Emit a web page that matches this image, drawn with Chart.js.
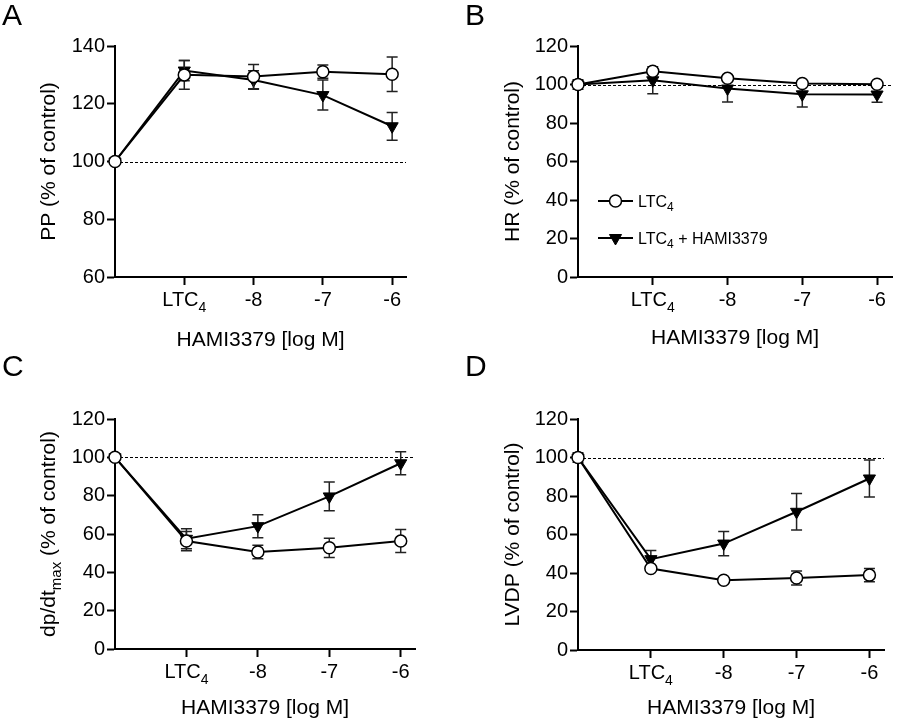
<!DOCTYPE html>
<html>
<head>
<meta charset="utf-8">
<script src="https://cdn.jsdelivr.net/npm/chart.js@4.4.1/dist/chart.umd.min.js"></script>
<style>
  body { margin: 0; background: #fff; }
  #wrap { position: relative; width: 900px; height: 725px; }
  canvas { position: absolute; }
  .letter { position: absolute; font: 30px/30px Arial, "Liberation Sans", sans-serif; color: #000; }
</style>
</head>
<body>
<div id="wrap">
  <canvas id="cA" width="450" height="362" style="left:0;top:0"></canvas>
  <canvas id="cB" width="450" height="362" style="left:450px;top:0"></canvas>
  <canvas id="cC" width="450" height="363" style="left:0;top:362px"></canvas>
  <canvas id="cD" width="450" height="363" style="left:450px;top:362px"></canvas>
  <div class="letter" style="left:2px;top:0">A</div>
  <div class="letter" style="left:465px;top:0">B</div>
  <div class="letter" style="left:2px;top:351px">C</div>
  <div class="letter" style="left:465px;top:351px">D</div>
</div>
<script>
// x positions: control, LTC4, then HAMI3379 -8 / -7 / -6 log M
const xPos = [0, 1, 2, 3, 4];
const xTickPos = [1, 2, 3, 4];
const xTickLabels = ['LTC_{4}', '-8', '-7', '-6'];
const xTitle = 'HAMI3379 [log M]';
const seriesNames = ['LTC_{4}', 'LTC_{4} + HAMI3379'];
const refLine = 100;

// A - PP
const ppLTC = [100, 130, 129.4, 131.1, 130.2];
const ppLTCErr = [0, 5, 4.2, 2.3, 6];
const ppHAMI = [100, 131.5, 128.2, 123, 112.2];
const ppHAMIErr = [0, 3.5, 3.2, 5.2, 4.8];

// B - HR
const hrLTC = [100, 106.9, 103.2, 100.5, 100.1];
const hrLTCErr = [0, 1, 1, 1, 1];
const hrHAMI = [100, 102.2, 97.9, 94.9, 94.8];
const hrHAMIErr = [2.5, 7, 7, 6.6, 4];

// C - dp/dt max
const dpLTC = [100, 56.3, 50.6, 52.8, 56.3];
const dpLTCErr = [0, 5, 3.5, 5, 6];
const dpHAMI = [100, 57.5, 64.1, 79.6, 96.9];
const dpHAMIErr = [0, 5.2, 6, 7.5, 6];

// D - LVDP
const lvLTC = [100, 42.3, 36.2, 37.4, 38.9];
const lvLTCErr = [2.5, 1, 1, 3.6, 3.5];
const lvHAMI = [100, 47.2, 55.3, 71.8, 89.1];
const lvHAMIErr = [0, 4.5, 6.3, 9.5, 9.6];

const FONT = 'Arial, "Liberation Sans", sans-serif';

const panels = [
  { id: 'cA', h: 362, yTitle: 'PP (% of control)', yMin: 60, yMax: 140,
    area: { l: 115, r: 406, t: 46, b: 277 }, yTitleX: 49, xTitleY: 341,
    series: [ppLTC, ppHAMI], errs: [ppLTCErr, ppHAMIErr] },
  { id: 'cB', h: 362, yTitle: 'HR (% of control)', yMin: 0, yMax: 120,
    area: { l: 128, r: 447, t: 46, b: 277 }, yTitleX: 62.5, xTitleY: 339,
    series: [hrLTC, hrHAMI], errs: [hrLTCErr, hrHAMIErr], legend: true },
  { id: 'cC', h: 363, yTitle: 'dp/dt_{max} (% of control)', yMin: 0, yMax: 120,
    area: { l: 115, r: 415, t: 57, b: 287 }, yTitleX: 49, xTitleY: 347,
    series: [dpLTC, dpHAMI], errs: [dpLTCErr, dpHAMIErr] },
  { id: 'cD', h: 363, yTitle: 'LVDP (% of control)', yMin: 0, yMax: 120,
    area: { l: 128, r: 434, t: 57, b: 288 }, yTitleX: 62.5, xTitleY: 347,
    series: [lvLTC, lvHAMI], errs: [lvLTCErr, lvHAMIErr] }
];

// split 'LTC_{4}' into normal / subscript runs
function runs(s) {
  const out = [];
  const re = /_\{([^}]*)\}/g;
  let last = 0, m;
  while ((m = re.exec(s))) {
    if (m.index > last) out.push({ t: s.slice(last, m.index), sub: false });
    out.push({ t: m[1], sub: true });
    last = re.lastIndex;
  }
  if (last < s.length) out.push({ t: s.slice(last), sub: false });
  return out;
}

function drawRich(ctx, s, x, y, size, align) {
  const rs = runs(s);
  const subSize = Math.round(size * 0.72);
  let w = 0;
  rs.forEach(r => {
    ctx.font = (r.sub ? subSize : size) + 'px ' + FONT;
    r.w = ctx.measureText(r.t).width;
    w += r.w;
  });
  let cx = align === 'center' ? x - w / 2 : x;
  ctx.textAlign = 'left';
  ctx.textBaseline = 'alphabetic';
  rs.forEach(r => {
    ctx.font = (r.sub ? subSize : size) + 'px ' + FONT;
    ctx.fillText(r.t, cx, r.sub ? y + size * 0.3 : y);
    cx += r.w;
  });
}

const errorBars = {
  id: 'errorBars',
  beforeDatasetDraw(chart, args) {
    const ds = chart.data.datasets[args.index];
    if (!ds.err) return;
    const { ctx, scales: { x, y } } = chart;
    ctx.save();
    ctx.strokeStyle = '#222';
    ctx.lineWidth = 1.5;
    ds.data.forEach((pt, i) => {
      const e = ds.err[i];
      if (!e) return;
      const px = x.getPixelForValue(pt.x);
      const top = y.getPixelForValue(pt.y + e);
      const bot = y.getPixelForValue(pt.y - e);
      ctx.beginPath();
      ctx.moveTo(px, top); ctx.lineTo(px, bot);
      ctx.moveTo(px - 5.5, top); ctx.lineTo(px + 5.5, top);
      ctx.moveTo(px - 5.5, bot); ctx.lineTo(px + 5.5, bot);
      ctx.stroke();
    });
    ctx.restore();
  }
};

const dashedRef = {
  id: 'dashedRef',
  beforeDatasetsDraw(chart) {
    const { ctx, scales: { x, y } } = chart;
    const py = Math.round(y.getPixelForValue(refLine)) + 0.5;
    ctx.save();
    ctx.strokeStyle = '#000';
    ctx.lineWidth = 1;
    ctx.setLineDash([3, 2]);
    ctx.beginPath();
    ctx.moveTo(x.left, py);
    ctx.lineTo(x.right, py);
    ctx.stroke();
    ctx.restore();
  }
};

const texts = {
  id: 'texts',
  afterDraw(chart) {
    const p = chart.options.plugins.texts;
    const { ctx, chartArea: a, scales: { x } } = chart;
    ctx.save();
    ctx.fillStyle = '#000';
    // x tick labels
    xTickPos.forEach((v, i) => {
      drawRich(ctx, xTickLabels[i], x.getPixelForValue(v), a.bottom + 29, 20, 'center');
    });
    // y title, rotated
    ctx.save();
    ctx.translate(p.yTitleX, (a.top + a.bottom) / 2);
    ctx.rotate(-Math.PI / 2);
    drawRich(ctx, p.yTitle, 0, 6, 21, 'center');
    ctx.restore();
    // legend
    if (p.legend) {
      const rows = [[chart.data.datasets[0], 201], [chart.data.datasets[1], 238]];
      const lx0 = a.left + 20, lx1 = a.left + 55;
      rows.forEach(([ds, ly], i) => {
        ctx.strokeStyle = '#000';
        ctx.lineWidth = 2;
        ctx.beginPath();
        ctx.moveTo(lx0, ly); ctx.lineTo(lx1, ly);
        ctx.stroke();
        ctx.fillStyle = ds.pointBackgroundColor;
        ctx.strokeStyle = '#000';
        ctx.lineWidth = ds.pointBorderWidth;
        Chart.helpers.drawPoint(ctx, {
          pointStyle: ds.pointStyle, radius: ds.pointRadius,
          rotation: ds.pointRotation || 0, borderWidth: ds.pointBorderWidth
        }, (lx0 + lx1) / 2, ly);
        ctx.fillStyle = '#000';
        drawRich(ctx, seriesNames[i], lx1 + 5, ly + 5.5, 16, 'left');
      });
    }
    ctx.restore();
  }
};

function makePanel(p) {
  const a = p.area;
  const yW = 60;
  const xH = p.xTitleY + 12 - a.b;
  const mk = (vals) => xPos.map((x, i) => ({ x: x, y: vals[i] }));
  new Chart(document.getElementById(p.id), {
    type: 'line',
    data: {
      datasets: [
        {
          label: seriesNames[0],
          data: mk(p.series[0]),
          err: p.errs[0],
          borderColor: '#000',
          borderWidth: 2,
          pointStyle: 'circle',
          pointRadius: 6,
          pointBackgroundColor: '#fff',
          pointBorderColor: '#000',
          pointBorderWidth: 1.5,
          tension: 0,
          clip: false
        },
        {
          label: seriesNames[1],
          data: mk(p.series[1]),
          err: p.errs[1],
          borderColor: '#000',
          borderWidth: 2,
          pointStyle: 'triangle',
          pointRotation: 180,
          pointRadius: 7,
          pointBackgroundColor: '#000',
          pointBorderColor: '#000',
          pointBorderWidth: 1,
          tension: 0,
          clip: false
        }
      ]
    },
    options: {
      responsive: false,
      animation: false,
      events: [],
      layout: {
        padding: { left: a.l - yW, top: a.t, right: 450 - a.r, bottom: p.h - (p.xTitleY + 12) }
      },
      plugins: {
        legend: { display: false },
        tooltip: { enabled: false },
        texts: p
      },
      scales: {
        x: {
          type: 'linear',
          min: 0,
          max: 4.2,
          afterBuildTicks(s) { s.ticks = xTickPos.map(v => ({ value: v })); },
          afterFit(s) { s.height = xH; },
          ticks: { display: false },
          grid: { drawOnChartArea: false, drawTicks: true, tickLength: 8, tickWidth: 2, tickColor: '#000' },
          border: { color: '#000', width: 2 },
          title: { display: true, text: xTitle, color: '#000', padding: 0, font: { family: FONT, size: 21, lineHeight: 1.2 } }
        },
        y: {
          min: p.yMin,
          max: p.yMax,
          afterFit(s) { s.width = yW; },
          ticks: { stepSize: 20, color: '#000', padding: 2, font: { family: FONT, size: 20 } },
          grid: { drawOnChartArea: false, drawTicks: true, tickLength: 8, tickWidth: 2, tickColor: '#000' },
          border: { color: '#000', width: 2 }
        }
      }
    },
    plugins: [dashedRef, errorBars, texts]
  });
}

panels.forEach(makePanel);
</script>
</body>
</html>
